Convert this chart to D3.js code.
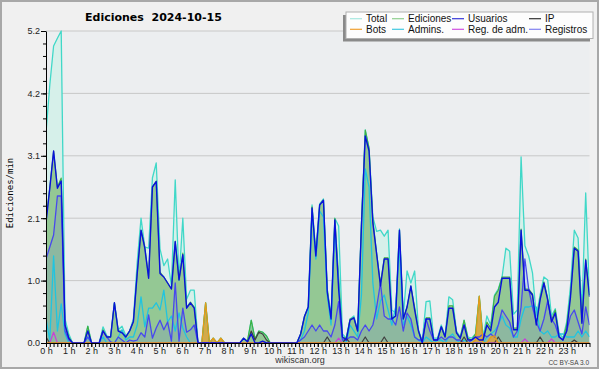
<!DOCTYPE html>
<html><head><meta charset="utf-8">
<script src="https://cdn.jsdelivr.net/npm/d3@7"></script>
<style>html,body{margin:0;padding:0;background:#fff;}svg{display:block;}</style>
</head><body>
<svg id="chart" width="600" height="370"></svg>
<script>
// ---------- DATA (10-minute bins, 144 per series, edits per minute) ----------
const hours = d3.range(0, 24);
const hourLabels = hours.map(h => h + " h");
const yMax = 5.2;
const yTickLabels = ["0.0", "1.0", "2.1", "3.1", "4.2", "5.2"];
const title = "Ediciones  2024-10-15";
const yTitle = "Ediciones/min";
const seriesNames = ["Total", "Ediciones", "Usuarios", "IP", "Bots", "Admins.", "Reg. de adm.", "Registros"];

const total = [
  3.5, 4.3, 4.95, 5.08, 5.2, 0.4,   0.15, 0, 0, 0, 0, 0.28,
  0, 0, 0, 0.27, 0.12, 0.1,         0.67, 0.22, 0.28, 0.12, 0.2, 0.4,
  1.35, 2.08, 1.6, 1.58, 2.75, 3.0, 1.57, 1.29, 1.4, 0.95, 2.72, 1.05,
  2.08, 0.73, 0.88, 0.88, 0, 0,     0.67, 0, 0.08, 0, 0.08, 0,
  0, 0, 0, 0, 0.08, 0.03,           0.38, 0.07, 0.2, 0.18, 0.12, 0,
  0, 0, 0, 0, 0, 0,                 0, 0.15, 0.44, 0.6, 2.3, 1.5,
  2.32, 2.4, 0.9, 0.45, 2.08, 1.95, 0.15, 0.08, 0.4, 0.45, 0.2, 2.0,
  3.55, 3.25, 2.1, 1.86, 1.88, 1.78, 1.88, 0.55, 0.5, 1.9, 0.45, 1.2,
  1.0, 1.2, 0.22, 0.03, 0.69, 0.7,  0.08, 0.08, 0.3, 0.12, 0.77, 0.72,
  0.2, 0.1, 0.38, 0.1, 0.08, 0.15,  0.78, 0.1, 0.45, 0.3, 0.8, 0.9,
  1.1, 1.58, 1.53, 0.48, 0.55, 3.1, 1.62, 1.45, 1.17, 0.45, 0.8, 1.1,
  1.05, 0.45, 0.57, 0.17, 0.08, 0.35, 0.95, 1.88, 1.75, 0.55, 2.5, 0.8
];
const ediciones = [
  2.05, 2.6, 3.2, 2.6, 2.75, 0.3,   0.1, 0, 0, 0, 0, 0.28,
  0, 0, 0, 0.22, 0.1, 0.1,          0.67, 0.2, 0.2, 0.1, 0.2, 0.36,
  1.16, 1.88, 1.6, 1.1, 2.6, 2.7,   1.18, 1.1, 1.0, 0.9, 1.7, 1.05,
  1.5, 0.6, 0.68, 0.6, 0, 0,        0.67, 0, 0.08, 0, 0.08, 0,
  0, 0, 0, 0, 0.08, 0.03,           0.38, 0.07, 0.2, 0.18, 0.12, 0,
  0, 0, 0, 0, 0, 0,                 0, 0.15, 0.44, 0.6, 2.27, 1.47,
  2.3, 2.38, 0.9, 0.42, 2.08, 1.1,  0.1, 0.08, 0.4, 0.42, 0.2, 2.0,
  3.55, 3.25, 2.05, 1.5, 1.0, 1.42, 1.42, 0.42, 0.45, 1.88, 0.4, 0.6,
  0.95, 0.6, 0.2, 0.02, 0.42, 0.42, 0.05, 0.05, 0.27, 0.1, 0.62, 0.62,
  0.18, 0.08, 0.38, 0.08, 0.05, 0.15, 0.78, 0.05, 0.35, 0.25, 0.78, 0.88,
  1.1, 1.1, 1.1, 0.25, 0.25, 1.9,   0.9, 0.9, 0.82, 0.32, 0.75, 1.02,
  0.75, 0.38, 0.55, 0.12, 0.05, 0.3, 0.8, 1.6, 1.55, 0.35, 1.4, 0.8
];
const usuarios = [
  2.0, 2.58, 3.2, 2.58, 2.7, 0.3,   0.08, 0, 0, 0, 0, 0.2,
  0, 0, 0, 0.2, 0.1, 0.1,           0.67, 0.2, 0.17, 0.1, 0.2, 0.36,
  1.16, 1.88, 1.58, 1.08, 2.6, 2.69, 1.16, 1.1, 1.0, 0.9, 1.69, 1.05,
  1.47, 0.58, 0.67, 0.58, 0, 0,     0, 0, 0, 0, 0, 0,
  0, 0, 0, 0, 0.08, 0.02,           0.15, 0, 0, 0.03, 0, 0,
  0, 0, 0, 0, 0, 0,                 0, 0.15, 0.44, 0.6, 2.25, 1.45,
  2.3, 2.38, 0.85, 0.4, 2.05, 0.9,  0.1, 0.05, 0.38, 0.42, 0.2, 1.95,
  3.45, 3.2, 2.0, 1.48, 0.95, 1.4,  1.4, 0.4, 0.45, 1.88, 0.4, 0.6,
  0.95, 0.55, 0.2, 0, 0.4, 0.4,     0.05, 0.05, 0.27, 0.1, 0.58, 0.58,
  0.17, 0.08, 0.3, 0.05, 0.05, 0.1, 0.05, 0.05, 0.3, 0.2, 0.6, 0.68,
  1.08, 1.08, 1.08, 0.22, 0.22, 1.88, 0.88, 0.88, 0.8, 0.3, 0.72, 1.0,
  0.72, 0.35, 0.5, 0.1, 0.05, 0.2,  0.77, 1.58, 1.53, 0.33, 1.38, 0.77
];
const ip = [
  0.1, 0, 0, 0, 0, 0,   0, 0, 0, 0, 0, 0,
  0, 0, 0, 0, 0, 0,     0, 0, 0, 0, 0, 0,
  0, 0, 0, 0, 0, 0,     0, 0, 0, 0, 0, 0,
  0, 0, 0, 0, 0, 0,     0, 0, 0, 0, 0, 0,
  0, 0, 0, 0, 0, 0,     0.2, 0.05, 0.18, 0.15, 0.05, 0,
  0, 0, 0, 0, 0, 0,     0, 0, 0, 0, 0, 0,
  0, 0, 0.1, 0, 0, 0,   0, 0.08, 0, 0, 0, 0,
  0.1, 0, 0, 0, 0, 0.1, 0, 0, 0, 0, 0, 0,
  0, 0, 0, 0, 0, 0,     0, 0, 0, 0, 0, 0,
  0, 0, 0.1, 0, 0, 0,   0, 0, 0, 0, 0, 0.1,
  0, 0, 0, 0, 0, 0,     0, 0, 0, 0, 0.1, 0,
  0, 0, 0, 0, 0, 0,     0, 0.05, 0, 0, 0, 0
];
const bots = [
  0, 0, 0, 0, 0, 0,     0, 0, 0, 0, 0, 0,
  0, 0, 0, 0, 0, 0,     0, 0, 0, 0, 0, 0,
  0, 0, 0, 0, 0, 0,     0, 0, 0, 0, 0, 0,
  0, 0, 0, 0, 0, 0,     0.67, 0, 0.08, 0, 0.08, 0,
  0, 0, 0, 0, 0, 0,     0, 0, 0, 0, 0, 0,
  0, 0, 0, 0, 0, 0,     0, 0, 0, 0, 0, 0,
  0, 0, 0, 0, 0, 0,     0, 0, 0, 0, 0, 0,
  0, 0, 0, 0, 0, 0,     0, 0, 0, 0, 0, 0,
  0, 0, 0, 0, 0, 0,     0, 0, 0, 0, 0, 0,
  0, 0, 0, 0, 0, 0.05,  0.78, 0, 0, 0.1, 0.12, 0,
  0, 0, 0, 0, 0, 0,     0, 0, 0, 0, 0, 0,
  0, 0, 0, 0, 0, 0,     0, 0, 0, 0, 0, 0
];
const admins = [
  0.4, 0.05, 1.45, 0.2, 0.65, 0.15, 0, 0, 0, 0, 0, 0.1,
  0, 0, 0, 0.1, 0, 0,             0, 0.1, 0.22, 0.05, 0.1, 0.1,
  0.3, 0.77, 0.27, 0.58, 0.58, 0.67, 0.55, 0.88, 0.35, 0.45, 0.2, 0.5,
  0.25, 0.1, 0, 0, 0, 0,          0, 0, 0, 0, 0, 0,
  0, 0, 0, 0, 0, 0,               0, 0, 0, 0, 0, 0,
  0, 0, 0, 0, 0, 0,               0, 0.05, 0.2, 0.5, 2.2, 1.4,
  2.2, 2.1, 0.8, 0.3, 1.9, 1.0,   0.05, 0, 0.3, 0.2, 0.1, 0.8,
  2.9, 2.6, 1.0, 0.4, 0.7, 0.8,   0.55, 0.3, 0.6, 1.6, 0.3, 0.45,
  0.3, 0.1, 0.05, 0, 0.1, 0.05,   0, 0.05, 0.05, 0, 0.1, 0.15,
  0.05, 0, 0.05, 0, 0, 0,         0, 0, 0.1, 0.15, 0.2, 0.3,
  0.45, 0.3, 0.25, 0.1, 0.1, 0.4, 0.6, 0.6, 0.62, 0.6, 0.2, 0.15,
  0.2, 0.1, 0.1, 0.15, 0.15, 0.1, 0.1, 0.1, 0.2, 0.1, 0.2, 0.1
];
const regAdm = [
  0, 0, 0.18, 0, 0, 0,  0, 0, 0, 0, 0, 0,
  0, 0, 0, 0, 0, 0,     0, 0, 0, 0, 0, 0,
  0, 0, 0, 0, 0, 0,     0, 0, 0, 0, 0, 0,
  0, 0, 0, 0, 0, 0,     0, 0, 0, 0, 0, 0,
  0, 0, 0, 0, 0, 0,     0, 0, 0, 0, 0, 0,
  0, 0, 0, 0, 0, 0,     0, 0, 0, 0, 0, 0,
  0, 0, 0, 0, 0, 0.08,  0, 0, 0, 0, 0, 0,
  0, 0, 0, 0, 0, 0,     0, 0, 0, 0, 0, 0,
  0, 0, 0, 0, 0, 0,     0, 0, 0, 0, 0, 0,
  0, 0, 0, 0, 0, 0,     0, 0, 0, 0, 0, 0,
  0, 0, 0, 0, 0, 0,     0.07, 0, 0, 0, 0, 0,
  0, 0.07, 0, 0, 0, 0,  0, 0, 0, 0, 0, 0
];
const registros = [
  1.4, 1.6, 1.8, 2.45, 2.45, 0.2, 0.05, 0, 0, 0, 0, 0.1,
  0, 0, 0, 0.2, 0.1, 0.02,        0, 0.1, 0.05, 0, 0.05, 0.03,
  0.05, 0.17, 0.1, 0.47, 0.08, 0.25, 0.38, 0.22, 0.35, 0.03, 1.0, 0.03,
  0.58, 0.18, 0.22, 0.3, 0, 0,    0, 0, 0, 0, 0, 0,
  0, 0, 0, 0, 0, 0,               0, 0, 0, 0, 0, 0,
  0, 0, 0, 0, 0, 0,               0, 0.05, 0.1, 0.2, 0.3, 0.2,
  0.3, 0.2, 0.2, 0.1, 0.3, 0.69,  0.05, 0.05, 0.1, 0.1, 0.05, 0.2,
  0.3, 0.2, 0.3, 0.6, 1.0, 0.45,  0.4, 0.4, 0.3, 0.6, 0.2, 0.5,
  0.4, 0.1, 0.05, 0.05, 0.4, 0.2, 0.05, 0.05, 0.1, 0.05, 0.1, 0.1,
  0.05, 0.05, 0, 0, 0.05, 0.1,    0.1, 0.15, 0.1, 0.15, 0.1, 0.3,
  0.55, 0.45, 0.35, 0.1, 0.2, 0.6, 1.4, 0.9, 0.6, 0.35, 0.2, 0.4,
  0.7, 0.4, 0.3, 0.1, 0.05, 0.2,  0.45, 0.55, 0.35, 0.15, 0.6, 0.3
];

// ---------- LAYOUT ----------
const W = 600, H = 370;
const plot = { left: 46, right: 589.5, top: 31, bottom: 343 };
const svg = d3.select("#chart");
const font = "'Liberation Sans', Arial, sans-serif";

svg.append("rect").attr("x", 0).attr("y", 0).attr("width", W).attr("height", H).attr("fill", "#fff");
svg.append("rect").attr("x", 1).attr("y", 1).attr("width", W - 3).attr("height", H - 3)
  .attr("fill", "#f0f0f0").attr("stroke", "#a8a8a8").attr("stroke-width", 2);
svg.append("rect").attr("x", plot.left).attr("y", plot.top)
  .attr("width", plot.right - plot.left).attr("height", plot.bottom - plot.top).attr("fill", "#eceef0");

const xIdx = d3.scaleLinear().domain([0, total.length - 1]).range([plot.left, plot.right]);
const xTime = d3.scaleLinear().domain([0, 24]).range([plot.left, plot.right]);
const y = d3.scaleLinear().domain([0, yMax]).range([plot.bottom, plot.top]);
const majorVals = yTickLabels.map((_, i) => i * yMax / (yTickLabels.length - 1));

// grid
svg.append("g").selectAll("line").data(majorVals.slice(1)).join("line")
  .attr("x1", plot.left).attr("x2", plot.right)
  .attr("y1", d => y(d)).attr("y2", d => y(d))
  .attr("stroke", "#c8c8c8").attr("stroke-width", 1);

svg.append("clipPath").attr("id", "clip").append("rect")
  .attr("x", plot.left).attr("y", plot.top - 2).attr("width", plot.right - plot.left).attr("height", plot.bottom - plot.top + 2);
const g = svg.append("g").attr("clip-path", "url(#clip)");

const area = arr => d3.area().x((d, i) => xIdx(i)).y0(y(0)).y1(d => y(d))(arr);
const line = arr => d3.line().x((d, i) => xIdx(i)).y(d => y(d))(arr);

// fills
g.append("path").attr("d", area(total)).attr("fill", "#d6f0ea");
g.append("path").attr("d", area(ediciones)).attr("fill", "#94c894");
g.append("path").attr("d", area(registros)).attr("fill", "#6a6ae0").attr("fill-opacity", 0.16);
g.append("path").attr("d", area(bots)).attr("fill", "#e8a030").attr("fill-opacity", 0.75);

// lines
const lines = [
  [total, "#40d8c8", 1.3],
  [ediciones, "#40b040", 1.1],
  [admins, "#20c4e0", 1.3],
  [registros, "#4848ee", 1.3],
  [ip, "#404040", 1.2],
  [regAdm, "#c840d8", 1.2],
  [bots, "#e89a18", 1.3],
  [usuarios, "#0a10dc", 1.4]
];
lines.forEach(([arr, c, w]) => {
  g.append("path").attr("d", line(arr)).attr("fill", "none").attr("stroke", c)
    .attr("stroke-width", w).attr("stroke-linejoin", "round");
});

// axes
const xMinor = d3.axisBottom(xTime).tickValues(d3.range(0, 145).map(i => i / 6)).tickFormat("").tickSize(4).tickSizeOuter(0);
svg.append("g").attr("transform", `translate(0,${plot.bottom})`).call(xMinor)
  .call(s => s.selectAll("line,path").attr("stroke", "#000"));
const xMajor = d3.axisBottom(xTime).tickValues(hours).tickFormat(h => hourLabels[h]).tickSize(4).tickPadding(1).tickSizeOuter(0);
svg.append("g").attr("transform", `translate(0,${plot.bottom})`).call(xMajor)
  .call(s => s.select(".domain").remove())
  .call(s => s.selectAll("line").attr("stroke", "#000"))
  .call(s => s.selectAll("text").attr("font-family", font).attr("font-size", 9).attr("fill", "#222"));

const yMinor = d3.axisLeft(y).tickValues(d3.range(0, 26).map(i => i * yMax / 25)).tickFormat("").tickSize(3).tickSizeOuter(0);
svg.append("g").attr("transform", `translate(${plot.left},0)`).call(yMinor)
  .call(s => s.selectAll("line,path").attr("stroke", "#000"));
const yMajor = d3.axisLeft(y).tickValues(majorVals).tickFormat((d, i) => yTickLabels[i]).tickSize(5).tickPadding(1).tickSizeOuter(0);
svg.append("g").attr("transform", `translate(${plot.left},0)`).call(yMajor)
  .call(s => s.select(".domain").remove())
  .call(s => s.selectAll("line").attr("stroke", "#000"))
  .call(s => s.selectAll("text").attr("font-family", font).attr("font-size", 9).attr("fill", "#222"));

// titles
svg.append("text").attr("x", 85).attr("y", 21).attr("font-family", "'DejaVu Sans', sans-serif")
  .attr("font-weight", "bold").attr("font-size", 11).attr("fill", "#000")
  .style("white-space", "pre").text(title);
svg.append("text").attr("transform", "translate(13,193) rotate(-90)").attr("text-anchor", "middle")
  .attr("font-family", "'DejaVu Sans Mono', monospace").attr("font-size", 9).attr("fill", "#000").text(yTitle);
svg.append("text").attr("x", 300).attr("y", 363).attr("text-anchor", "middle")
  .attr("font-family", font).attr("font-size", 9).attr("fill", "#333").text("wikiscan.org");
svg.append("text").attr("x", 589).attr("y", 365).attr("text-anchor", "end")
  .attr("font-family", font).attr("font-size", 6.5).attr("fill", "#444").text("CC BY-SA 3.0");

// legend
const leg = svg.append("g");
leg.append("rect").attr("x", 343).attr("y", 15).attr("width", 247).attr("height", 26.5).attr("fill", "#8a8a8a");
leg.append("rect").attr("x", 346).attr("y", 12).attr("width", 247).attr("height", 26.5)
  .attr("fill", "#fdfdfd").attr("stroke", "#b0b0b0").attr("stroke-width", 1);
const legColors = ["#a8e8e0", "#90d090", "#3838d8", "#333333", "#f0a030", "#40c8e0", "#d050e0", "#8080f0"];
const colX = [366, 408, 468, 545];
seriesNames.forEach((name, i) => {
  const col = i % 4, row = Math.floor(i / 4);
  const tx = colX[col], cy = row === 0 ? 18.7 : 29.3;
  leg.append("line").attr("x1", tx - 16).attr("x2", tx - 4).attr("y1", cy).attr("y2", cy)
    .attr("stroke", legColors[i]).attr("stroke-width", 1.2);
  leg.append("text").attr("x", tx).attr("y", cy + 3.6).attr("font-family", font).attr("font-size", 10)
    .attr("fill", "#111").text(name);
});
</script>
</body></html>
